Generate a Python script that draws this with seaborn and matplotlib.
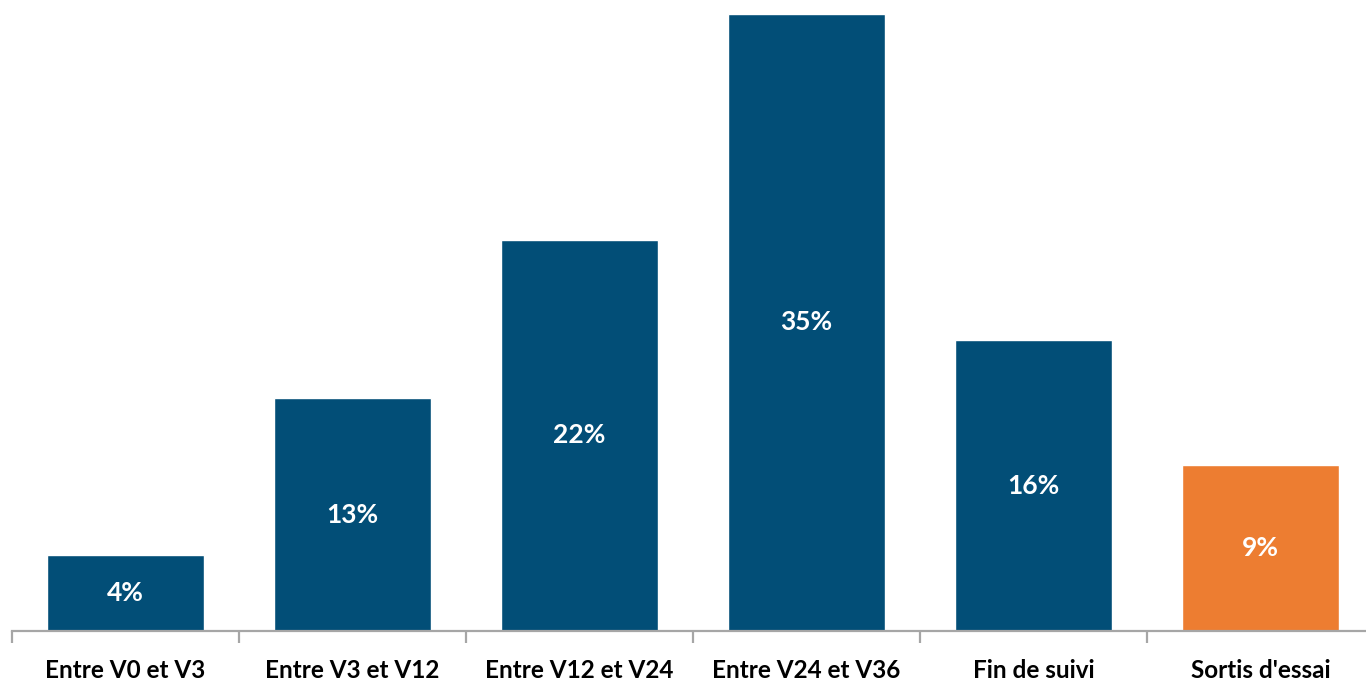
import matplotlib
matplotlib.use("Agg")
import matplotlib.pyplot as plt
import numpy as np
import pandas as pd
import seaborn as sns
from matplotlib.ticker import FixedLocator

COLOR_BLUE = "#024E77"
COLOR_ORANGE = "#ED7D31"
COLOR_AXIS = "#A6A6A6"

categories = [
    "Entre V0 et V3",
    "Entre V3 et V12",
    "Entre V12 et V24",
    "Entre V24 et V36",
    "Fin de suivi",
    "Sortis d'essai",
]
values = [4.3, 13.2, 22.2, 35.0, 16.5, 9.4]
value_labels = ["4%", "13%", "22%", "35%", "16%", "9%"]
bar_colors = [COLOR_BLUE, COLOR_BLUE, COLOR_BLUE, COLOR_BLUE, COLOR_BLUE, COLOR_ORANGE]

df = pd.DataFrame({"categorie": categories, "valeur": values})

sns.set_theme(style="white")
plt.rcParams["font.family"] = ["Lato", "DejaVu Sans"]

fig = plt.figure(figsize=(13.66, 6.84), dpi=100)
# axes run slightly past the right edge, as in the original crop
ax = fig.add_axes([12 / 1366, 53 / 684, 1362 / 1366, 634.7 / 684])

sns.barplot(
    data=df,
    x="categorie",
    y="valeur",
    hue="categorie",
    palette=bar_colors,
    width=0.69,
    legend=False,
    saturation=1,
    ax=ax,
)

for i, (v, lab) in enumerate(zip(values, value_labels)):
    ax.text(
        i,
        v / 2,
        lab,
        ha="center",
        va="center",
        color="white",
        fontsize=19,
        fontweight="bold",
    )

ax.set_ylim(0, 36)
ax.set_xlim(-0.5, len(categories) - 0.5)
ax.set_yticks([])
ax.set_xlabel("")
ax.set_ylabel("")

for side in ["top", "right", "left"]:
    ax.spines[side].set_visible(False)
ax.spines["bottom"].set_color(COLOR_AXIS)
ax.spines["bottom"].set_linewidth(1.6)

ax.xaxis.set_minor_locator(FixedLocator(np.arange(-0.5, len(categories), 1.0)))
ax.tick_params(axis="x", which="major", length=0, pad=20, labelsize=17.5)
ax.tick_params(
    axis="x", which="minor", length=8.5, width=1.6, color=COLOR_AXIS, direction="out", bottom=True
)
for t in ax.get_xticklabels():
    t.set_fontweight("bold")
    t.set_color("black")

fig.savefig("out.png", dpi=100)
